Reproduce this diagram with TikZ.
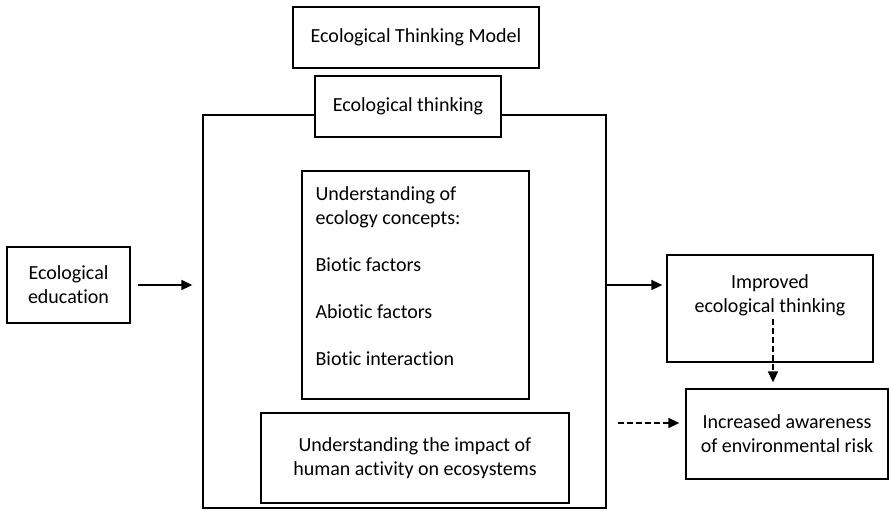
\documentclass[tikz,border=0pt]{standalone}
\usepackage{fontspec}
\setmainfont{Carlito}[Ligatures=NoCommon]
\usetikzlibrary{arrows.meta}

\tikzset{
  box/.style={draw, line width=1.3pt, fill=white, inner sep=0pt},
  arr/.style={line width=1.7pt, -{Triangle[length=11pt,width=10pt]}},
  dasharr/.style={arr, dash pattern=on 6pt off 3pt},
}

\begin{document}
\begin{tikzpicture}[x=1pt, y=-1pt, every node/.style={font=\fontsize{20}{24}\selectfont, align=center}]
        \useasboundingbox (0,0) rectangle (889,511);
        % title and the big frame with its heading
        \node[box, minimum width=246pt, minimum height=61pt] (model) at (416,37.5) {Ecological Thinking Model};
        \node[box, minimum width=403pt, minimum height=393pt] (frame) at (404.5,311.5) {};
        \node[box, minimum width=186pt, minimum height=61pt] (thinking) at (408,106.5) {Ecological thinking};
        % contents of the frame
        \node[box, minimum width=227pt, minimum height=228pt] (concepts) at (415.5,285) {};
        \node[anchor=north west, align=left, inner sep=0pt] (conceptlist) at ([xshift=14pt,yshift=-16pt]concepts.north west) {Understanding of\\ecology concepts:\\[23pt]Biotic factors\\[23pt]Abiotic factors\\[23pt]Biotic interaction};
        \node[box, minimum width=308pt, minimum height=90pt] (impact) at (415,458) {Understanding the impact of\\human activity on ecosystems};
        % input and outcomes
        \node[box, minimum width=123pt, minimum height=76pt] (education) at (68.5,285) {Ecological\\education};
        \node[box, minimum width=206pt, minimum height=107pt] (improved) at (770,308.5) {};
        \node[anchor=north, inner sep=0pt] (improvedtext) at ([yshift=-20pt]improved.north) {Improved\\ecological thinking};
        \node[box, minimum width=202pt, minimum height=90pt] (awareness) at (787,434) {Increased awareness\\of environmental risk};
        \coordinate (risk) at ([yshift=11pt]awareness.west);
        % arrows
        \draw[arr, shorten <=7pt, shorten >=10pt] (education.east) -- (education.east -| frame.west);
        \draw[arr, shorten >=4pt] (frame.east |- concepts.center) -- (improved.west |- concepts.center);
        \draw[dasharr, shorten <=3pt, shorten >=6pt] ([xshift=3pt]improvedtext.south) -- ([xshift=3pt]improvedtext.south |- awareness.north);
        \draw[dasharr, shorten <=11pt, shorten >=6pt] (risk -| frame.east) -- (risk);
    \end{tikzpicture}
\end{document}
